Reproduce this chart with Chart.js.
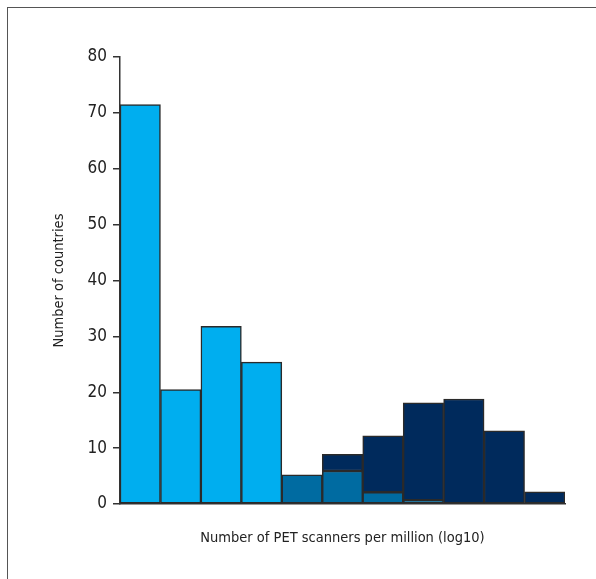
<!DOCTYPE html>
<html>
<head>
<meta charset="utf-8">
<script src="https://cdn.jsdelivr.net/npm/chart.js@4"></script>
<style>
  body { margin:0; background:#fff; }
  #frame { position:absolute; left:7px; top:7px; width:620px; height:620px; border-left:1px solid #555; border-top:1px solid #555; }
  #wrap { position:absolute; left:0; top:0; width:596px; height:579px; }
</style>
</head>
<body>
<div id="frame"></div>
<div id="wrap"><canvas id="chart"></canvas></div>
<script>
// histogram bins (log10 scanners per million), stacked by group
const bins = ['b1','b2','b3','b4','b5','b6','b7','b8','b9','b10','b11'];
const lightVals  = [71.5, 20.5, 31.8, 25.4, null, null, null, null, null, null, null];
const mediumVals = [null, null, null, null, 5.2, 5.9, 2.1, 0.7, null, null, null];
const darkVals   = [null, null, null, null, null, 3.0, 10.1, 17.4, 18.8, 13.1, 2.2];
const yTicks = [0, 10, 20, 30, 40, 50, 60, 70, 80];

const FONT = "'DejaVu Sans Condensed', 'Liberation Sans Narrow', sans-serif";
const barStyle = { borderColor: '#2a2a2a', borderWidth: 1.5, borderSkipped: false, categoryPercentage: 1, barPercentage: 1 };

new Chart(document.getElementById('chart'), {
  type: 'bar',
  data: {
    labels: bins,
    datasets: [
      { label: 'light', data: lightVals, backgroundColor: '#00aeef', ...barStyle },
      { label: 'medium', data: mediumVals, backgroundColor: '#006ba1', ...barStyle },
      { label: 'dark', data: darkVals, backgroundColor: '#002a5c', ...barStyle }
    ]
  },
  options: {
    responsive: true,
    maintainAspectRatio: false,
    animation: false,
    layout: { padding: { top: 57, right: 31, left: 0, bottom: 0 } },
    plugins: { legend: { display: false }, tooltip: { enabled: false } },
    scales: {
      x: {
        stacked: true,
        grid: { display: false },
        border: { display: true, color: '#333', width: 1.5 },
        ticks: { display: false },
        title: { display: true, text: 'Number of PET scanners per million (log10)', color: '#222', font: { family: FONT, size: 14.5 }, padding: { top: 20, bottom: 32 } },
        afterFit: s => { s.height = 75; }
      },
      y: {
        stacked: true,
        min: 0, max: 80,
        afterBuildTicks: s => { s.ticks = yTicks.map(v => ({ value: v })); },
        grid: { drawOnChartArea: false, tickLength: 7, color: '#333', lineWidth: 1.5 },
        border: { display: true, color: '#333', width: 1.5 },
        ticks: { color: '#222', font: { family: FONT, size: 17 }, padding: 6 },
        title: { display: true, text: 'Number of countries', color: '#222', font: { family: FONT, size: 14.5 }, padding: { top: 51, bottom: 0 } },
        afterFit: s => { s.width = 120; }
      }
    }
  }
});
</script>
</body>
</html>
